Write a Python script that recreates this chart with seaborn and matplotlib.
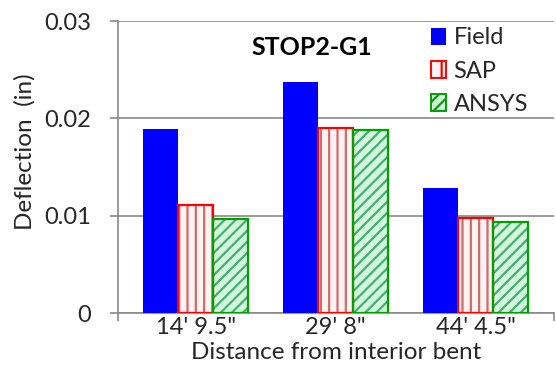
import matplotlib
matplotlib.use("Agg")
import matplotlib.pyplot as plt
from matplotlib.patches import Patch, Rectangle
import seaborn as sns
import pandas as pd

# Mid-span deflection of girder G1 at STOP2
locations = ["14' 9.5\"", "29' 8\"", "44' 4.5\""]
field = [0.0189, 0.0237, 0.0128]
sap = [0.0111, 0.0190, 0.0098]
ansys = [0.0097, 0.0188, 0.0093]
sources = ["Field", "SAP", "ANSYS"]
yticks = [0, 0.01, 0.02, 0.03]
ytick_labels = ["0", "0.01", "0.02", "0.03"]

df = pd.DataFrame({
    "location": locations * 3,
    "deflection": field + sap + ansys,
    "source": [s for s in sources for _ in locations],
})

sns.set_theme(style="white")
plt.rcParams["font.family"] = ["Lato", "DejaVu Sans"]
plt.rcParams["hatch.linewidth"] = 1.6

FS = 17
grid_c = "#898989"
styles = {
    "Field": dict(face="#0000ff", hatch=None, hatch_c=None, edge=None),
    "SAP": dict(face="#fff2f2", hatch="||", hatch_c="#cd6a6a", edge="#ff0000"),
    "ANSYS": dict(face="#d6f5df", hatch="///", hatch_c="#3cb36c", edge="#00a000"),
}

fig = plt.figure(figsize=(5.56, 3.70), dpi=100)
ax = fig.add_axes([117.5 / 556, 1 - 313 / 370, (554 - 117.5) / 556, (313 - 21) / 370])

sns.barplot(data=df, x="location", y="deflection", hue="source",
            hue_order=sources, palette=["#0000ff", "#ffffff", "#ffffff"],
            width=0.75, dodge=True, ax=ax, legend=False, zorder=3)

# hatched model bars get a separate solid outline on top of the hatch
for src, cont in zip(sources, ax.containers):
    st = styles[src]
    for bar in cont:
        bar.set_facecolor(st["face"])
        bar.set_linewidth(0)
        if st["hatch"]:
            bar.set_hatch(st["hatch"])
            bar.set_edgecolor(st["hatch_c"])
            ax.add_patch(Rectangle(bar.get_xy(), bar.get_width(), bar.get_height(),
                                   fill=False, edgecolor=st["edge"], linewidth=1.6,
                                   zorder=4))

ax.set_xlim(-0.56, 2.56)
ax.set_ylim(0, 0.03)
ax.set_yticks(yticks)
ax.set_yticklabels(ytick_labels)
ax.yaxis.grid(True, color=grid_c, linewidth=1.2, zorder=0)
ax.set_axisbelow(True)
for side in ("top", "right"):
    ax.spines[side].set_visible(False)
for side in ("left", "bottom"):
    ax.spines[side].set_color(grid_c)
    ax.spines[side].set_linewidth(1.2)

# tick marks only at the two ends of the category axis
ax.set_xticks([-0.56, 2.56], minor=True)
ax.tick_params(axis="x", which="minor", direction="out", length=6, width=1.2,
               color=grid_c, bottom=True)
ax.tick_params(axis="x", which="major", length=0, labelsize=FS, pad=3)
ax.tick_params(axis="y", direction="out", length=6, width=1.2, color=grid_c,
               labelsize=FS, pad=13, left=True)
ax.set_xlabel("Distance from interior bent", fontsize=17.5, labelpad=3)
ax.set_ylabel("Deflection  (in)", fontsize=17.5)
ax.yaxis.set_label_coords(-0.187, 0.553)

ax.text(0.446, 0.8836, "STOP2-G1", transform=ax.transAxes, ha="center",
        va="baseline", fontsize=18, fontweight="bold", color="black")

handles = [
    Patch(facecolor=styles["Field"]["face"], edgecolor="none"),
    Patch(facecolor=styles["SAP"]["face"], edgecolor=styles["SAP"]["edge"],
          hatch="|", linewidth=1.4),
    Patch(facecolor=styles["ANSYS"]["face"], edgecolor=styles["ANSYS"]["edge"],
          hatch="///", linewidth=1.4),
]
fig.legend(handles, sources, loc="upper left", bbox_to_anchor=(431 / 556, 1 - 27.5 / 370),
           frameon=False, fontsize=FS, handlelength=0.65, handleheight=0.75,
           handletextpad=0.3, labelspacing=0.52, borderpad=0, borderaxespad=0)

fig.savefig("out.png", dpi=100)
